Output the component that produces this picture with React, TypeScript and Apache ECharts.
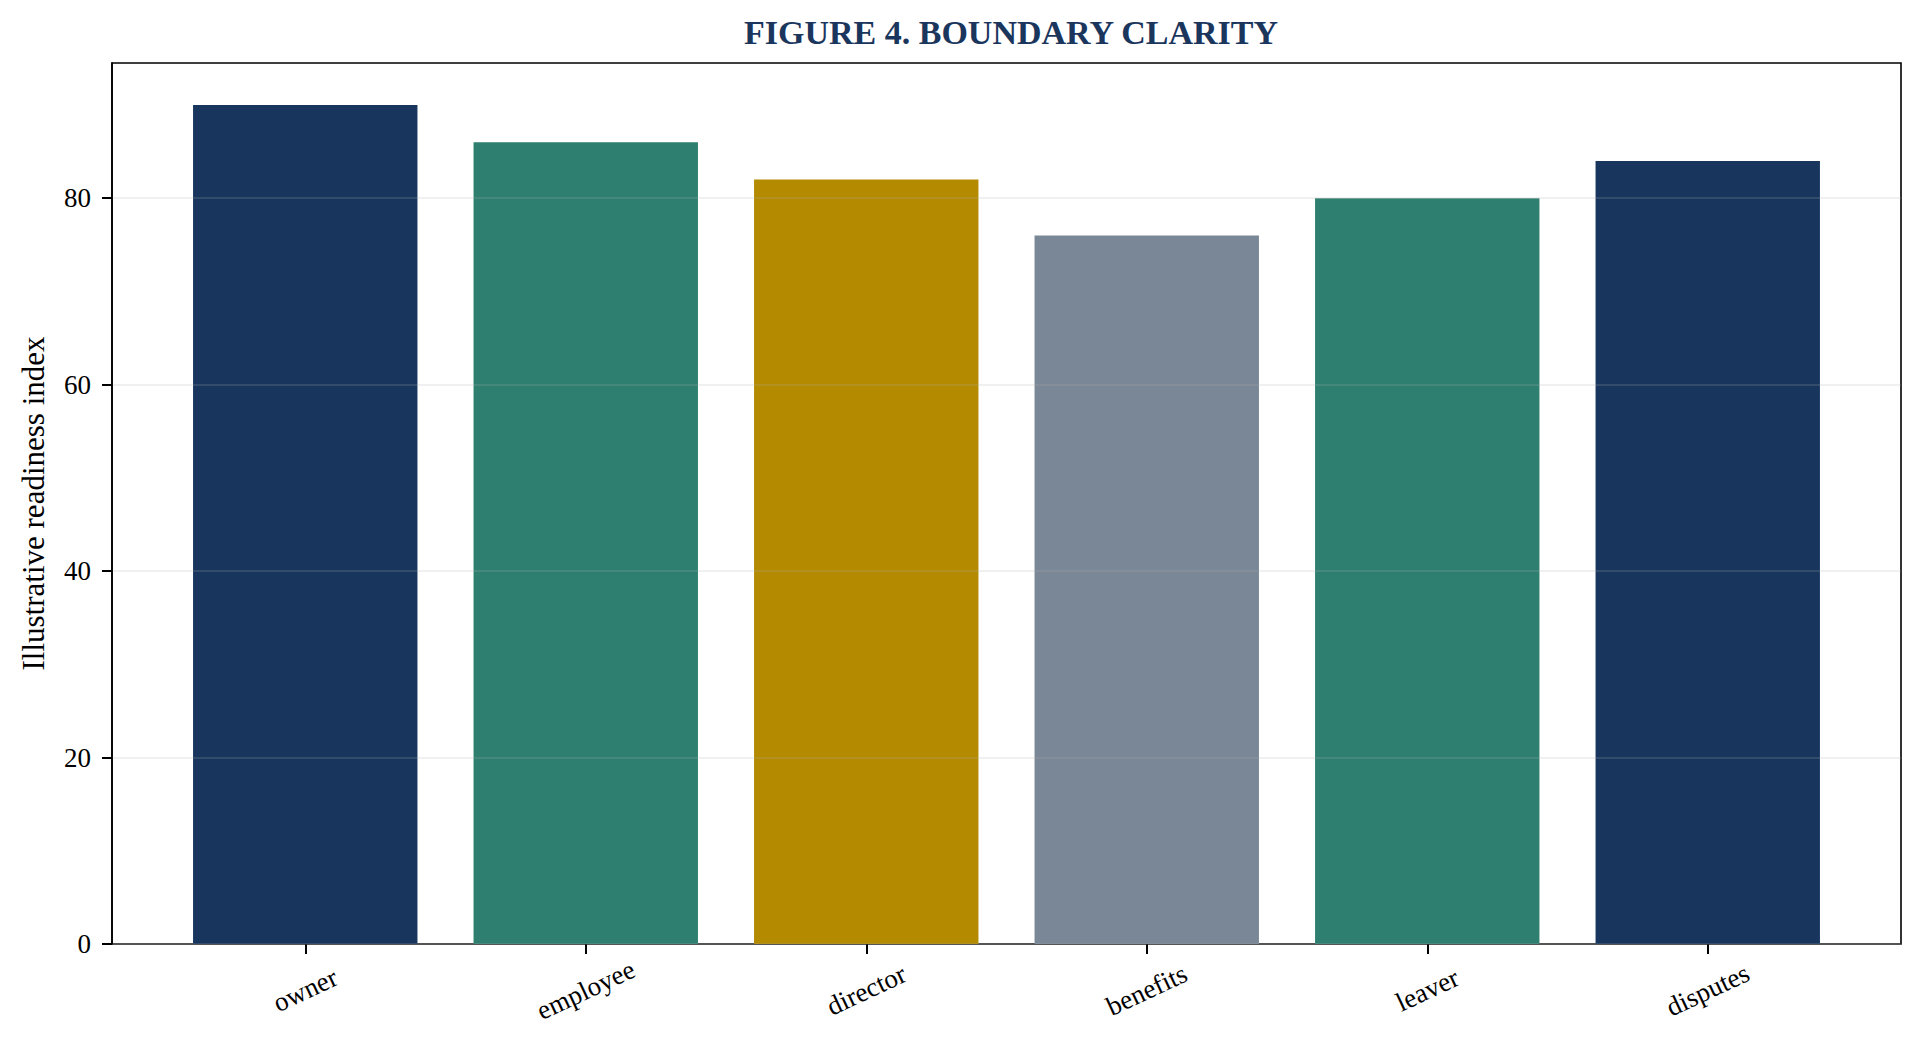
import * as echarts from 'echarts';
import { useEffect, useRef } from 'react';

const categories = ['owner', 'employee', 'director', 'benefits', 'leaver', 'disputes'];
const values = [90, 86, 82, 76, 80, 84];
const barColors = ['#18365d', '#2e7f6f', '#b38a00', '#7a8796', '#2e7f6f', '#18365d'];
const yTicks = [0, 20, 40, 60, 80];
const yMax = 94.5;

const FONT = '"Liberation Serif", "Times New Roman", serif';

export default function App() {
  const ref = useRef<HTMLDivElement>(null);

  useEffect(() => {
    if (!ref.current) return;
    const chart = echarts.init(ref.current, null, { renderer: 'svg' });
    chart.setOption({
      animation: false,
      backgroundColor: '#ffffff',
      textStyle: { fontFamily: FONT },
      title: {
        text: 'FIGURE 4. BOUNDARY CLARITY',
        left: 1006,
        textAlign: 'center',
        top: 10,
        textStyle: { fontFamily: FONT, fontSize: 34, fontWeight: 'bold', color: '#1b365d' },
      },
      grid: [
        { left: 112, right: 23, top: 63, bottom: 108, show: true, borderColor: '#000', borderWidth: 1.6, backgroundColor: 'transparent' },
        { left: 165, right: 76, top: 63, bottom: 108 },
      ],
      xAxis: [
        { type: 'value', gridIndex: 0, min: 0, max: 1, show: false },
        {
          type: 'category',
          gridIndex: 1,
          data: categories,
          axisLine: { show: false },
          axisTick: { show: true, alignWithLabel: true, length: 10, lineStyle: { color: '#000', width: 2 } },
          axisLabel: {
            rotate: 25,
            align: 'center',
            verticalAlign: 'middle',
            margin: 46,
            fontFamily: FONT,
            fontSize: 27,
            color: '#000',
          },
        },
      ],
      yAxis: [
        {
          type: 'value',
          gridIndex: 0,
          min: 0,
          max: yMax,
          z: 5,
          name: 'Illustrative readiness index',
          nameLocation: 'middle',
          nameGap: 63,
          nameTextStyle: { fontFamily: FONT, fontSize: 31, color: '#000' },
          axisLine: { show: true, lineStyle: { color: '#000', width: 1.6 } },
          axisTick: { show: true, length: 10, lineStyle: { color: '#000', width: 2 }, customValues: yTicks },
          axisLabel: { fontFamily: FONT, fontSize: 27, color: '#000', margin: 21, customValues: yTicks },
          splitLine: { show: true, lineStyle: { color: 'rgba(176,176,176,0.25)', width: 1.5 } },
        },
        { type: 'value', gridIndex: 1, min: 0, max: yMax, show: false, splitLine: { show: false } },
      ],
      series: [
        {
          type: 'bar',
          xAxisIndex: 1,
          yAxisIndex: 1,
          barWidth: '80%',
          data: values.map((v, i) => ({ value: v, itemStyle: { color: barColors[i] } })),
        },
      ],
    });
    return () => chart.dispose();
  }, []);

  return <div ref={ref} style={{ position: 'absolute', left: 0, top: 0, width: 1924, height: 1052 }} />;
}
